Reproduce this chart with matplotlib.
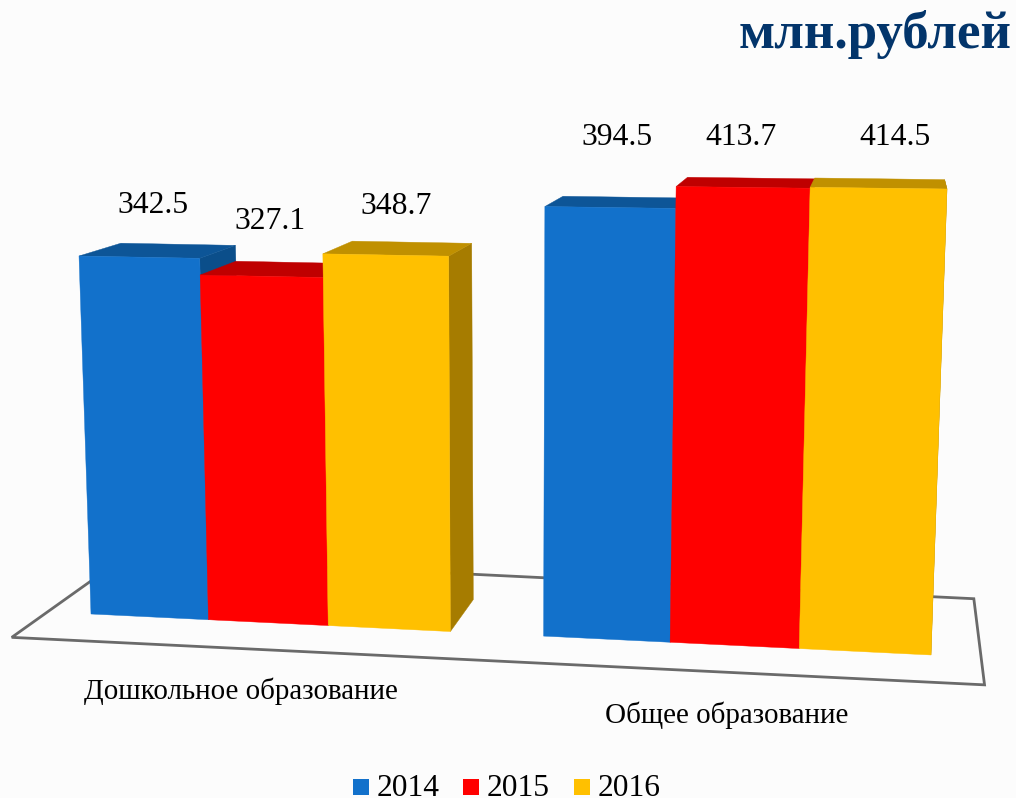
#!/usr/bin/env python3
import matplotlib
matplotlib.use("Agg")
import matplotlib.pyplot as plt
import numpy as np
from matplotlib.patches import Polygon, Rectangle

categories = ["Дошкольное образование", "Общее образование"]
years = ["2014", "2015", "2016"]
values_2014 = [342.5, 394.5]
values_2015 = [327.1, 413.7]
values_2016 = [348.7, 414.5]

front_colors = ["#1271CB", "#FF0000", "#FFC000"]
top_colors = ["#0D5597", "#BF0000", "#C09000"]
side_colors = ["#0B4E8A", "#A00000", "#A67C00"]

# bar width is 1 unit, gap between the groups
GROUP_GAP = 0.75
BAR_DEPTH = 0.051
FLOOR_FRONT = -0.042
FLOOR_BACK = 0.09
VANISH = np.array([900.0, 5.0])

# label placement in pixels (baselines), the slide had them dragged by hand
label_xy = [[(153, 213), (617, 145)], [(270, 229), (741, 145)], [(396, 214), (895, 145)]]
category_xy = [(241, 699), (727, 723)]
legend_box_x = [353, 463, 574]
legend_text_x = [377, 487, 598]


def fit_plane(world, screen):
    rows, rhs = [], []
    for (x, z), (u, v) in zip(world, screen):
        rows.append([x, z, 1, 0, 0, 0, -u * x, -u * z])
        rows.append([0, 0, 0, x, z, 1, -v * x, -v * z])
        rhs += [u, v]
    return np.append(np.linalg.solve(np.array(rows, float), np.array(rhs, float)), 1).reshape(3, 3)


# front plane of the bars, pinned on the outer corners of the two outer bars
span = 6 + GROUP_GAP
PLANE = fit_plane(
    [(0, 0), (span, 0), (0, values_2014[0]), (span, values_2016[1])],
    [(91, 614), (931, 655), (79, 256), (947, 189)],
)


def project(x, z, depth=0.0):
    p = PLANE @ np.array([x, z, 1.0])
    p = p[:2] / p[2]
    return p + depth * (VANISH - p)


def draw_bar(ax, x0, value, idx):
    x1 = x0 + 1
    top = [project(x0, value), project(x1, value), project(x1, value, BAR_DEPTH), project(x0, value, BAR_DEPTH)]
    side = [project(x1, 0), project(x1, 0, BAR_DEPTH), project(x1, value, BAR_DEPTH), project(x1, value)]
    front = [project(x0, 0), project(x1, 0), project(x1, value), project(x0, value)]
    for pts, col in ((side, side_colors[idx]), (top, top_colors[idx]), (front, front_colors[idx])):
        ax.add_patch(Polygon(pts, closed=True, facecolor=col, edgecolor=col, linewidth=0.3, zorder=3))


def main() -> int:
    fig = plt.figure(figsize=(10.16, 7.98), dpi=100, facecolor="#FCFCFC")
    ax = fig.add_axes([0, 0, 1, 1])
    ax.set_xlim(0, 1016)
    ax.set_ylim(798, 0)
    ax.axis("off")

    serif = "Liberation Serif"

    floor_x0, floor_x1 = -GROUP_GAP / 2, span + GROUP_GAP / 2
    floor = [
        project(floor_x0, 0, FLOOR_FRONT),
        project(floor_x1, 0, FLOOR_FRONT),
        project(floor_x1, 0, FLOOR_BACK),
        project(floor_x0, 0, FLOOR_BACK),
    ]
    ax.add_patch(Polygon(floor, closed=True, fill=False, edgecolor="#6A6A6A", linewidth=2.0, zorder=1))

    series = [values_2014, values_2015, values_2016]
    for g in range(len(categories)):
        for s, vals in enumerate(series):
            x0 = g * (3 + GROUP_GAP) + s
            draw_bar(ax, x0, vals[g], s)
            ax.text(*label_xy[s][g], f"{vals[g]:.1f}", family=serif, fontsize=22.8,
                    ha="center", va="baseline", color="black", zorder=5)

    for name, xy in zip(categories, category_xy):
        ax.text(*xy, name, family=serif, fontsize=20.9, ha="center", va="baseline", color="black", zorder=5)

    ax.text(1012, 48, "млн.рублей", family=serif, fontsize=38.2, fontweight="bold",
            ha="right", va="baseline", color="#03356B", zorder=5)

    # legend sits right on the bottom edge of the slide
    for year, col, bx, tx in zip(years, front_colors, legend_box_x, legend_text_x):
        ax.add_patch(Rectangle((bx, 779), 16, 16, facecolor=col, edgecolor="none", zorder=5))
        ax.text(tx, 796.5, year, family=serif, fontsize=22.7, ha="left", va="baseline", color="black", zorder=5)

    fig.savefig("out.png", dpi=100, facecolor=fig.get_facecolor())
    plt.close(fig)
    return 0


if __name__ == "__main__":
    raise SystemExit(main())
